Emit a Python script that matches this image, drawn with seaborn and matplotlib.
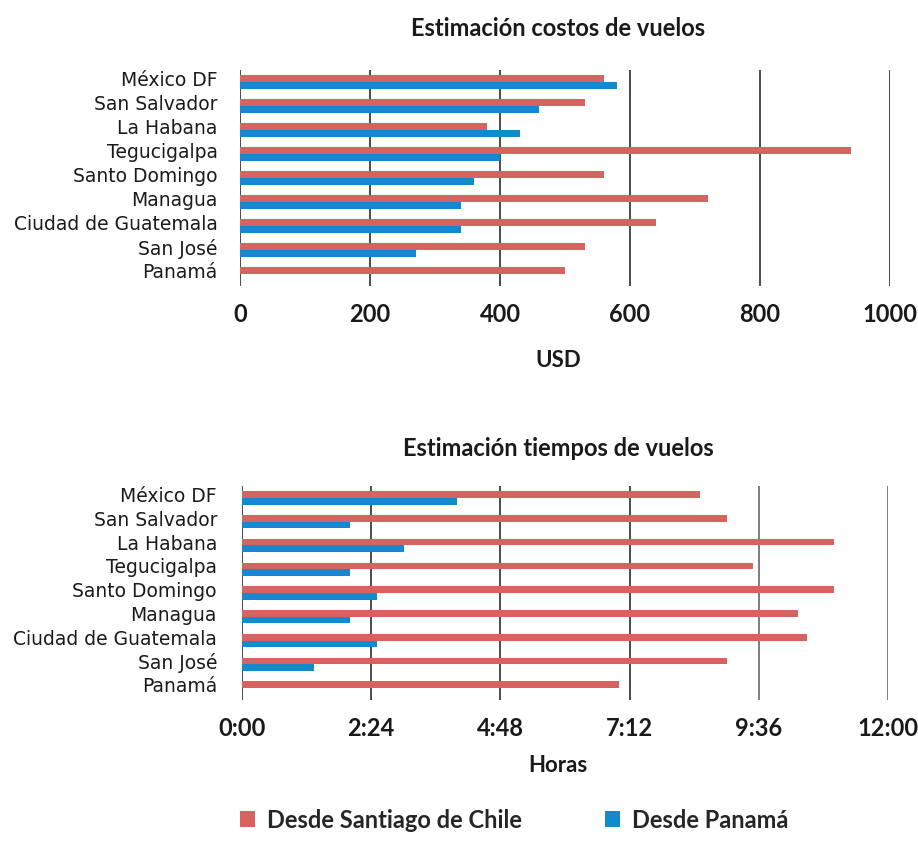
import numpy as np
import pandas as pd
import matplotlib
matplotlib.use("Agg")
import matplotlib.pyplot as plt
from matplotlib.patches import Patch
import seaborn as sns

# Destinations, listed top to bottom
ciudades = ["México DF", "San Salvador", "La Habana", "Tegucigalpa", "Santo Domingo",
            "Managua", "Ciudad de Guatemala", "San José", "Panamá"]
origenes = ["Desde Santiago de Chile", "Desde Panamá"]

# Flight cost estimates (USD)
costo_santiago = [560, 530, 380, 940, 560, 720, 640, 530, 500]
costo_panama = [580, 460, 430, 400, 360, 340, 340, 270, np.nan]

# Flight time estimates (hours)
horas_santiago = [8.5, 9.0, 11.0, 9.5, 11.0, 10.33, 10.5, 9.0, 7.0]
horas_panama = [4.0, 2.0, 3.0, 2.0, 2.5, 2.0, 2.5, 1.33, np.nan]

costo_ticks = [0, 200, 400, 600, 800, 1000]
horas_ticks = [0, 2.4, 4.8, 7.2, 9.6, 12.0]
horas_labels = ["0:00", "2:24", "4:48", "7:12", "9:36", "12:00"]

ROJO = "#D6635F"
AZUL = "#128ACB"
TINTA = "#1a1a1a"
BOLD = ["Lato", "DejaVu Sans"]


def largo(a, b):
    return pd.DataFrame({
        "ciudad": ciudades * 2,
        "origen": [origenes[0]] * len(ciudades) + [origenes[1]] * len(ciudades),
        "valor": list(a) + list(b),
    })


sns.set_theme(style="white")
plt.rcParams["font.family"] = ["DejaVu Sans"]

fig = plt.figure(figsize=(9.18, 8.6), dpi=100)
ax1 = fig.add_axes([240 / 918, 1 - 286 / 860, 650 / 918, 216 / 860])
ax2 = fig.add_axes([242 / 918, 1 - 700 / 860, 646 / 918, 214 / 860])


def dibujar(ax, df, ticks, labels, xmax, ypad):
    sns.barplot(data=df, y="ciudad", x="valor", hue="origen", order=ciudades,
                hue_order=origenes, palette=[ROJO, AZUL], saturation=1,
                orient="h", width=0.56, ax=ax, legend=False, errorbar=None,
                zorder=3, edgecolor="none", linewidth=0)
    ax.set_xlim(0, xmax)
    ax.set_ylim(len(ciudades) - 0.5, -0.5)
    ax.set_xticks(ticks)
    ax.set_xticklabels(labels, fontsize=17, fontweight="bold", family=BOLD, color=TINTA)
    ax.set_yticks(np.arange(len(ciudades)) - 0.14)
    ax.set_yticklabels(ciudades, fontsize=13.5, color=TINTA)
    ax.tick_params(axis="x", length=0, pad=12)
    ax.tick_params(axis="y", length=0, pad=ypad)
    ax.grid(axis="x", color=TINTA, linewidth=1.1, zorder=1)
    ax.grid(axis="y", visible=False)
    for s in ax.spines.values():
        s.set_visible(False)
    ax.set_xlabel("")
    ax.set_ylabel("")


dibujar(ax1, largo(costo_santiago, costo_panama), costo_ticks,
        [str(t) for t in costo_ticks], 1000, 16)
dibujar(ax2, largo(horas_santiago, horas_panama), horas_ticks, horas_labels, 12.0, 18)

# the two rightmost time gridlines are drawn in a softer grey
for linea in ax2.get_xgridlines()[4:]:
    linea.set_color("#5a5a5a")

cx = 558 / 918
fig.text(cx, 1 - 28 / 860, "Estimación costos de vuelos", ha="center", va="center",
         fontsize=17, fontweight="bold", family=BOLD, color=TINTA)
fig.text(cx, 1 - 360 / 860, "USD", ha="center", va="center",
         fontsize=16, fontweight="bold", family=BOLD, color=TINTA)
fig.text(cx, 1 - 449 / 860, "Estimación tiempos de vuelos", ha="center", va="center",
         fontsize=17, fontweight="bold", family=BOLD, color=TINTA)
fig.text(cx, 1 - 765 / 860, "Horas", ha="center", va="center",
         fontsize=16, fontweight="bold", family=BOLD, color=TINTA)

handles = [Patch(facecolor=ROJO, edgecolor="none"), Patch(facecolor=AZUL, edgecolor="none")]
fig.legend(handles, origenes, loc="center", bbox_to_anchor=(514 / 918, 1 - 820 / 860),
           ncol=2, frameon=False, handlelength=0.65, handleheight=0.65,
           handletextpad=0.5, columnspacing=3.5,
           prop={"family": BOLD, "weight": "bold", "size": 17})

fig.savefig("out.png", dpi=100)
